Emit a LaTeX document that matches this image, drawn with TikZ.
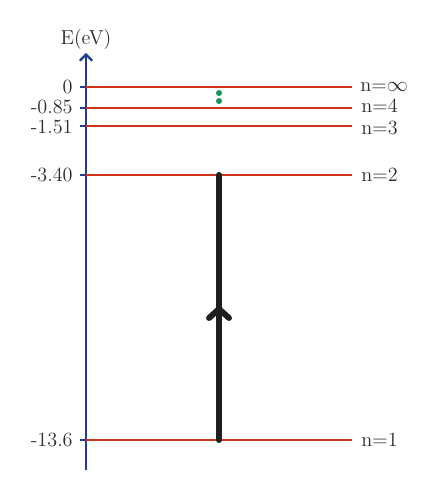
\documentclass[tikz,border=0pt]{standalone}
\usepackage{amsmath,amssymb}
\usepackage{tikz}
\usetikzlibrary{arrows.meta, positioning}

\definecolor{lvlred}{RGB}{205,52,28}
\definecolor{axblue}{RGB}{30,62,138}
\definecolor{txtgray}{RGB}{45,45,45}
\definecolor{dotgreen}{RGB}{20,150,90}

\tikzset{
  level/.style={draw=lvlred, line width=1.3pt},
  axis/.style={draw=axblue, line width=1.1pt},
  elab/.style={left, text=txtgray, font=\fontsize{11.5}{13}\selectfont, inner sep=0pt},
  nlab/.style={right, text=txtgray, font=\fontsize{11.5}{13}\selectfont, inner sep=0pt},
  jump/.style={draw=black!88, line width=3.4pt, line cap=round, line join=round}
}

\begin{document}
\begin{tikzpicture}[x=0.02cm, y=-0.02cm]
\useasboundingbox (0,0) rectangle (428,502);

% energy axis
\coordinate (bot) at (86,470);
\coordinate (top) at (86,53);
\draw[axis, -{Straight Barb[length=3.5pt, width=7pt, line width=1.3pt]}] (bot)--(top);
\node (E) at (86,39) [text=txtgray, font=\fontsize{11.5}{13}\selectfont]{E(eV)};

% levels
\coordinate (l0) at (80,87);   \coordinate (r0) at (352,87);
\coordinate (l4) at (80,108);  \coordinate (r4) at (352,108);
\coordinate (l3) at (80,126);  \coordinate (r3) at (352,126);
\coordinate (l2) at (80,175);  \coordinate (r2) at (352,175);
\coordinate (l1) at (80,440);  \coordinate (r1) at (352,440);
\draw[axis] (l0)--(86,87); \draw[axis] (l4)--(86,108); \draw[axis] (l3)--(86,126);
\draw[axis] (l2)--(86,175); \draw[axis] (l1)--(86,440);
\draw[level] (86,87)--(r0);
\draw[level] (86,108)--(r4);
\draw[level] (86,126)--(r3);
\draw[level] (86,175)--(r2);
\draw[level] (86,440)--(r1);

\node (e0) at ([shift={(-7,0)}]l0)[elab]{0};
\node (e4) at ([shift={(-7,-1)}]l4)[elab]{-0.85};
\node (e3) at ([shift={(-7,1)}]l3)[elab]{-1.51};
\node (e2) at ([shift={(-7,0)}]l2)[elab]{-3.40};
\node (e1) at ([shift={(-7,0)}]l1)[elab]{-13.6};
\node (n0) at ([shift={(8,0)}]r0)[nlab]{n=$\infty$};
\node (n4) at ([shift={(9,-2)}]r4)[nlab]{n=4};
\node (n3) at ([shift={(9,2)}]r3)[nlab]{n=3};
\node (n2) at ([shift={(9,0)}]r2)[nlab]{n=2};
\node (n1) at ([shift={(9,0)}]r1)[nlab]{n=1};

% dots between n=4 and n=inf
\fill[dotgreen] (219,93) circle (3);
\fill[dotgreen] (219,101) circle (3);

% transition 1 -> 2
\coordinate (up) at (219,440);
\coordinate (dn) at (219,175);
\draw[jump] (up)--(dn);
\coordinate (tip) at (219,309);
\draw[jump] ([shift={(-10,9)}]tip)--(tip)--([shift={(10,9)}]tip);
\end{tikzpicture}
\end{document}
